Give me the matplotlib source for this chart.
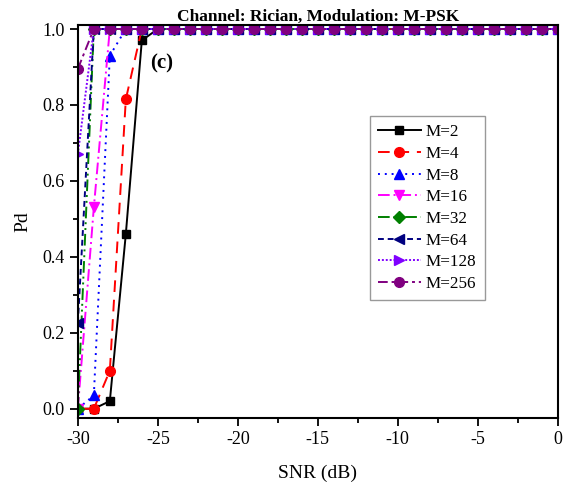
import matplotlib
matplotlib.use("Agg")
import matplotlib.pyplot as plt
from matplotlib.ticker import MultipleLocator

plt.rcParams['font.family'] = ['Liberation Serif', 'DejaVu Serif']
plt.rcParams['axes.unicode_minus'] = False

snr = list(range(-30, 1))
# Pd values; the rest of each curve sits at 1.0
pd_m2 = [0, 0, 0.02, 0.46, 0.97]
pd_m4 = [0, 0, 0.10, 0.815]
pd_m8 = [0, 0.035, 0.93]
pd_m16 = [0, 0.53]
pd_m32 = [0]
pd_m64 = [0.225]
pd_m128 = [0.67]
pd_m256 = [0.895]
labels = ["M=2", "M=4", "M=8", "M=16", "M=32", "M=64", "M=128", "M=256"]

def full(vals):
    return vals + [1.0] * (len(snr) - len(vals))

series = [pd_m2, pd_m4, pd_m8, pd_m16, pd_m32, pd_m64, pd_m128, pd_m256]
colors = ["black", "#ff0000", "#0000ff", "#ff00ff", "#008000", "#000080", "#8000ff", "#800080"]
markers = ["s", "o", "^", "v", "D", "<", ">", "o"]
styles = ["-", (0, (6, 4)), (0, (1, 2.5)), (0, (6, 2, 1, 2)), (0, (6, 2, 1, 2, 1, 2)),
          (0, (3, 2)), (0, (1, 1)), (0, (5, 2, 1.5, 2))]
msizes = [6, 7, 7, 7, 6, 7, 7, 7]

fig = plt.figure(figsize=(5.64, 4.87), dpi=100)
ax = fig.add_axes([0.138, 0.142, 0.851, 0.807])

for vals, c, m, ls, ms, lab in zip(series, colors, markers, styles, msizes, labels):
    ax.plot(snr, full(vals), color=c, marker=m, linestyle=ls, markersize=ms,
            linewidth=1.4, label=lab)

ax.set_xlim(-30, 0)
ax.set_ylim(-0.024, 1.011)
ax.xaxis.set_major_locator(MultipleLocator(5))
ax.xaxis.set_minor_locator(MultipleLocator(2.5))
ax.yaxis.set_major_locator(MultipleLocator(0.2))
ax.yaxis.set_minor_locator(MultipleLocator(0.1))
ax.yaxis.set_major_formatter(plt.FuncFormatter(lambda v, p: f"{v:.1f}"))
ax.tick_params(which='major', direction='out', length=6, width=1.3, labelsize=13)
ax.tick_params(which='minor', direction='out', length=3.5, width=1.3)
for sp in ax.spines.values():
    sp.set_linewidth(1.5)

ax.set_xlabel("SNR (dB)", fontsize=14, labelpad=12)
ax.set_ylabel("Pd", fontsize=14, labelpad=8)
ax.set_title("Channel: Rician, Modulation: M-PSK", fontsize=12.5, fontweight='bold', pad=3)
ax.text(-25.5, 0.91, "(c)", fontsize=15, fontweight='bold', va='center')

leg = ax.legend(loc='upper left', bbox_to_anchor=(0.59, 0.79), fontsize=12.3,
                frameon=True, fancybox=False, edgecolor='gray', handlelength=2.5,
                labelspacing=0.33, borderpad=0.5, handletextpad=0.3)
leg.get_frame().set_linewidth(1.0)

fig.savefig("out.png", dpi=100)
